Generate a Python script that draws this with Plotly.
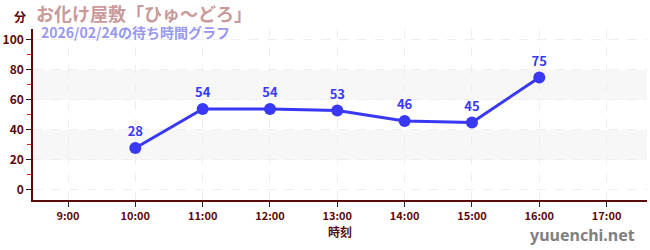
import plotly.graph_objects as go

hours = [10, 11, 12, 13, 14, 15, 16]
waits = [28, 54, 54, 53, 46, 45, 75]
tick_vals = [9, 10, 11, 12, 13, 14, 15, 16, 17]
tick_text = ["9:00", "10:00", "11:00", "12:00", "13:00", "14:00", "15:00", "16:00", "17:00"]
y_ticks = [0, 20, 40, 60, 80, 100]
bands = [(20, 40), (60, 80)]

title = "お化け屋敷「ひゅ～どろ」"
subtitle = "2026/02/24の待ち時間グラフ"

FONT = "Noto Sans CJK JP"
AXIS_COLOR = "#5a0a0a"

fig = go.Figure()
fig.add_trace(go.Scatter(
    x=hours, y=waits, mode="lines+markers+text",
    line=dict(color="#3838f5", width=3),
    marker=dict(color="#3838f5", size=12),
    text=[str(v) for v in waits], textposition="top center",
    textfont=dict(color="#3838f5", size=13, family=FONT, weight="bold"),
    cliponaxis=False, hoverinfo="skip", showlegend=False,
))

for lo, hi in bands:
    fig.add_hrect(y0=lo, y1=hi, fillcolor="#f7f7f7", line_width=0, layer="below")

fig.update_layout(
    width=650, height=250,
    margin=dict(l=30, r=3, t=29, b=50),
    paper_bgcolor="white", plot_bgcolor="white",
    font=dict(family=FONT, color=AXIS_COLOR),
    xaxis=dict(
        range=[8.48, 17.6], tickvals=tick_vals, ticktext=tick_text,
        showline=True, linecolor=AXIS_COLOR, linewidth=1.5,
        ticks="outside", ticklen=5, tickcolor="#222",
        tickfont=dict(size=11, color=AXIS_COLOR, family=FONT, weight="bold"),
        showgrid=True, gridcolor="#eeeeee", griddash="dash", gridwidth=1,
        zeroline=False,
        title=dict(text="時刻", font=dict(size=12, color=AXIS_COLOR, family=FONT, weight="bold"), standoff=7),
    ),
    yaxis=dict(
        range=[-6.7, 107.3], tickvals=y_ticks,
        showline=True, linecolor=AXIS_COLOR, linewidth=1.5,
        ticks="outside", ticklen=5, tickcolor="#222",
        tickfont=dict(size=12, color=AXIS_COLOR, family=FONT, weight="bold"),
        showgrid=True, gridcolor="#eeeeee", griddash="dash", gridwidth=1,
        zeroline=False,
        minor=dict(tickvals=[10, 30, 50, 70, 90], ticks="outside", ticklen=4, tickcolor="#dd2222", showgrid=False),
    ),
    annotations=[
        dict(text="分", x=17, y=16, showarrow=False,
             font=dict(size=12, color=AXIS_COLOR, family=FONT, weight="bold"),
             xanchor="center", yanchor="middle"),
        dict(text=title, x=31, y=13, showarrow=False,
             font=dict(size=18, color="#c99a9a", family=FONT, weight="bold"),
             xanchor="left", yanchor="middle"),
        dict(text=subtitle, x=36, y=32, showarrow=False,
             font=dict(size=14, color="#9898f0", family=FONT, weight="bold"),
             xanchor="left", yanchor="middle"),
        dict(text="yuuenchi.net", x=637, y=235, showarrow=False,
             font=dict(size=16, color="#808080", family="Noto Sans", weight="bold"),
             xanchor="right", yanchor="middle"),
    ],
)

# convert pixel-positioned annotations to paper coords
W, H = 650, 250
l, r, t, b = 30, 3, 29, 50
pw, ph = W - l - r, H - t - b
for a in fig.layout.annotations:
    px, py = a.x, a.y
    a.xref = "paper"; a.yref = "paper"
    a.x = (px - l) / pw
    a.y = (H - b - py) / ph

fig.write_html("out.html")
